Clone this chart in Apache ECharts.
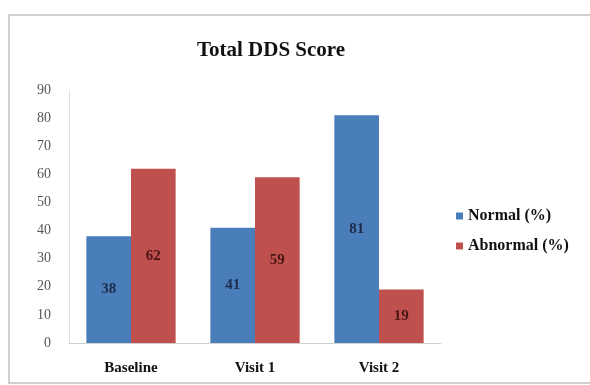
<!DOCTYPE html>
<html>
<head>
<meta charset="utf-8">
<script src="https://cdn.jsdelivr.net/npm/echarts@6/dist/echarts.min.js"></script>
<style>
	html, body { margin: 0; padding: 0; background: #fff; }
	#chart { width: 590px; height: 385px; }
</style>
</head>
<body>
<div id="chart"></div>
<script>
var visits = ['Baseline', 'Visit 1', 'Visit 2'];
var normalPct = [38, 41, 81];
var abnormalPct = [62, 59, 19];
var yTicks = [0, 90, 10]; // min, max, interval

var serif = '"Liberation Serif", "DejaVu Serif", serif';

var option = {
	backgroundColor: '#fff',
	animation: false,
	graphic: [{
		type: 'rect',
		shape: { x: 9, y: 15, width: 590, height: 368 },
		style: { fill: 'none', stroke: '#cfcfcf', lineWidth: 2 }
	}],
	title: {
		text: 'Total DDS Score',
		left: 266,
		textAlign: 'center',
		top: 35,
		textStyle: {
			fontFamily: serif,
			fontSize: 21,
			fontWeight: 'bold',
			color: '#111'
		}
	},
	legend: {
		orient: 'vertical',
		left: 451,
		top: 203,
		itemWidth: 7,
		itemHeight: 7,
		itemGap: 14,
		itemStyle: { borderWidth: 0 },
		icon: 'rect',
		textStyle: {
			fontFamily: serif,
			fontSize: 16,
			fontWeight: 'bold',
			color: '#111'
		}
	},
	grid: {
		left: 69,
		top: 90,
		width: 372,
		height: 253
	},
	xAxis: {
		type: 'category',
		data: visits,
		axisLine: { lineStyle: { color: '#d0d0d0', width: 1 } },
		axisTick: { show: false },
		axisLabel: {
			fontFamily: serif,
			fontSize: 15,
			fontWeight: 'bold',
			color: '#111',
			margin: 18
		}
	},
	yAxis: {
		type: 'value',
		min: yTicks[0],
		max: yTicks[1],
		interval: yTicks[2],
		axisLine: { show: true, lineStyle: { color: '#e0e0e0' } },
		axisTick: { show: false },
		splitLine: { show: false },
		axisLabel: {
			fontFamily: serif,
			fontSize: 14,
			color: '#555',
			margin: 18
		}
	},
	series: [{
		name: 'Normal (%)',
		type: 'bar',
		data: normalPct,
		barGap: '0%',
		barCategoryGap: '28%',
		itemStyle: { color: '#4a7ebb' },
		label: {
			show: true,
			position: 'inside',
			fontFamily: serif,
			fontSize: 15,
			fontWeight: 'bold',
			color: '#1c2b4a'
		}
	}, {
		name: 'Abnormal (%)',
		type: 'bar',
		data: abnormalPct,
		itemStyle: { color: '#c0504d' },
		label: {
			show: true,
			position: 'inside',
			fontFamily: serif,
			fontSize: 15,
			fontWeight: 'bold',
			color: '#4a1616'
		}
	}]
};

var chart = echarts.init(document.getElementById('chart'));
chart.setOption(option);
</script>
</body>
</html>
